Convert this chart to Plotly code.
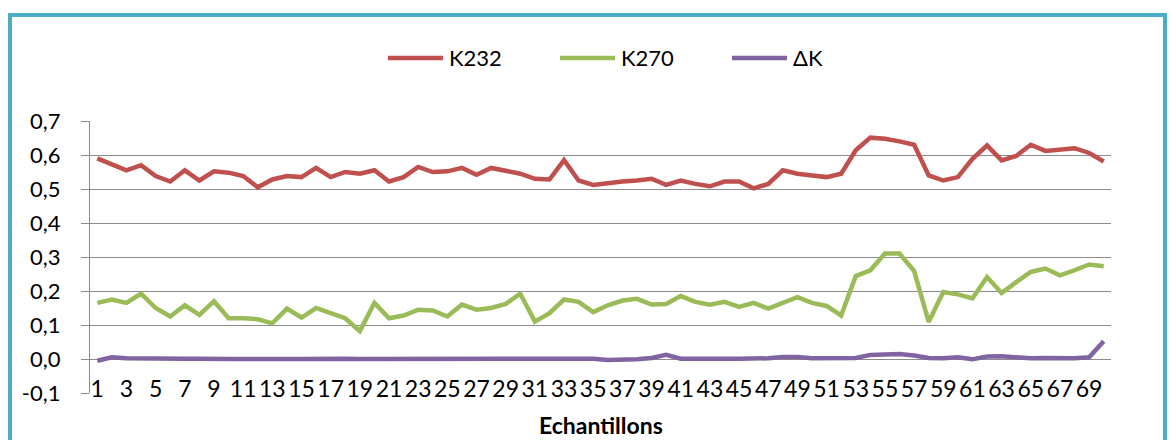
import plotly.graph_objects as go

# Samples 1..70
samples = list(range(1, 71))

k232 = [0.590, 0.572, 0.555, 0.570, 0.538, 0.522, 0.555, 0.525, 0.552, 0.548,
        0.538, 0.505, 0.528, 0.538, 0.535, 0.562, 0.535, 0.550, 0.545, 0.555,
        0.522, 0.535, 0.565, 0.550, 0.552, 0.562, 0.542, 0.562, 0.555, 0.545,
        0.530, 0.528, 0.585, 0.525, 0.512, 0.518, 0.522, 0.525, 0.530, 0.512,
        0.525, 0.515, 0.508, 0.522, 0.522, 0.502, 0.515, 0.555, 0.545, 0.540,
        0.535, 0.545, 0.614, 0.651, 0.648, 0.640, 0.630, 0.540, 0.525, 0.535,
        0.589, 0.628, 0.584, 0.597, 0.630, 0.612, 0.616, 0.620, 0.606, 0.581]

k270 = [0.165, 0.175, 0.165, 0.192, 0.150, 0.125, 0.158, 0.130, 0.170, 0.120,
        0.120, 0.117, 0.105, 0.148, 0.122, 0.150, 0.135, 0.120, 0.082, 0.165,
        0.120, 0.128, 0.145, 0.143, 0.125, 0.160, 0.145, 0.150, 0.162, 0.192,
        0.110, 0.135, 0.175, 0.168, 0.138, 0.158, 0.172, 0.177, 0.160, 0.162,
        0.185, 0.168, 0.160, 0.168, 0.153, 0.165, 0.148, 0.165, 0.182, 0.165,
        0.156, 0.128, 0.244, 0.261, 0.310, 0.310, 0.259, 0.109, 0.197, 0.190,
        0.178, 0.241, 0.194, 0.226, 0.256, 0.266, 0.246, 0.261, 0.278, 0.273]

delta_k = [-0.005, 0.005, 0.002, 0.001, 0.002, 0.001, 0.001, 0.001, 0.002, 0.0,
           0.0, 0.001, 0.001, 0.0, 0.0, 0.001, 0.003, 0.001, 0.0, 0.0,
           0.001, 0.001, 0.002, 0.0, 0.0, 0.0, 0.001, 0.001, 0.001, 0.001,
           0.001, 0.001, 0.001, 0.002, 0.001, -0.003, -0.003, -0.001, 0.003, 0.012,
           0.001, 0.0, 0.001, 0.001, 0.001, 0.0, 0.002, 0.006, 0.006, 0.002,
           0.002, 0.003, 0.003, 0.012, 0.012, 0.015, 0.010, 0.003, 0.002, 0.005,
           -0.001, 0.007, 0.008, 0.005, 0.002, 0.003, 0.002, 0.002, 0.005, 0.052]

series_names = ["K232", "K270", "ΔK"]
series_colors = ["#C0504D", "#9BBB59", "#8064A2"]

y_tick_values = [-0.1, 0.0, 0.1, 0.2, 0.3, 0.4, 0.5, 0.6, 0.7]
y_tick_labels = ["-0,1", "0,0", "0,1", "0,2", "0,3", "0,4", "0,5", "0,6", "0,7"]
x_tick_values = samples[::2]
x_tick_labels = [str(v) for v in x_tick_values]
x_title = "Echantillons"

FONT = "Lato"
GRID = "#8C8C8C"
FRAME = "#4BACC6"

W, H = 1172, 440
ML, MR, MT, MB = 90, 61, 121, 47
PW, PH = W - ML - MR, H - MT - MB


def px_x(p):
    return (p - ML) / PW


def px_y(p):
    return (H - MB - p) / PH


fig = go.Figure()
for name, vals, col in zip(series_names, [k232, k270, delta_k], series_colors):
    fig.add_trace(go.Scatter(
        x=samples, y=vals, name=name, mode="lines",
        line=dict(color=col, width=4.5), showlegend=False,
    ))

shapes = []
annotations = []

# Legend row
legend_line_x = [(388, 443), (560, 615), (732, 787)]
for (x0, x1), name, col in zip(legend_line_x, series_names, series_colors):
    shapes.append(dict(type="line", xref="paper", yref="paper",
                       x0=px_x(x0), x1=px_x(x1), y0=px_y(58), y1=px_y(58),
                       line=dict(color=col, width=4.5)))
    annotations.append(dict(text=name, xref="paper", yref="paper",
                            x=px_x(x1 + 4), y=px_y(58), xanchor="left", yanchor="middle",
                            showarrow=False, font=dict(family=FONT, size=22, color="#000000")))

# Axis title
annotations.append(dict(text="<b>" + x_title + "</b>", xref="paper", yref="paper",
                        x=0.5, y=px_y(425), xanchor="center", yanchor="middle",
                        showarrow=False, font=dict(family=FONT, size=23, color="#000000")))

# Chart frame
shapes.append(dict(type="rect", xref="paper", yref="paper",
                   x0=px_x(10), x1=px_x(1165), y0=px_y(460), y1=px_y(15),
                   line=dict(color=FRAME, width=4), fillcolor="rgba(0,0,0,0)", layer="below"))

fig.update_layout(
    width=W, height=H,
    margin=dict(l=ML, r=MR, t=MT, b=MB),
    paper_bgcolor="white", plot_bgcolor="white",
    font=dict(family=FONT, size=22, color="#000000"),
    showlegend=False,
    shapes=shapes,
    annotations=annotations,
    xaxis=dict(
        range=[0.5, 70.5], showgrid=False, zeroline=False, showline=False,
        tickmode="array", tickvals=x_tick_values, ticktext=x_tick_labels,
        ticks="", ticklabelstandoff=-20, tickangle=0,
        tickfont=dict(family=FONT, size=23, color="#000000"),
    ),
    xaxis2=dict(
        overlaying="x", anchor="free", position=1 / 8, side="bottom",
        range=[0.5, 70.5], showgrid=False, zeroline=False, showline=False,
        tickmode="array", tickvals=[v + 0.5 for v in [0] + samples],
        ticks="outside", ticklen=5, tickcolor=GRID, tickwidth=1.3,
        showticklabels=False,
    ),
    yaxis=dict(
        range=[-0.1, 0.7], tickmode="array", tickvals=y_tick_values, ticktext=y_tick_labels,
        showgrid=True, gridcolor=GRID, gridwidth=1.3,
        zeroline=True, zerolinecolor=GRID, zerolinewidth=1.3,
        showline=True, linecolor=GRID, linewidth=1.3,
        ticks="outside", ticklen=8, tickcolor=GRID, tickwidth=1.3,
        ticklabelstandoff=16,
        tickfont=dict(family=FONT, size=22, color="#000000"),
    ),
)

fig.write_html("out.html")
